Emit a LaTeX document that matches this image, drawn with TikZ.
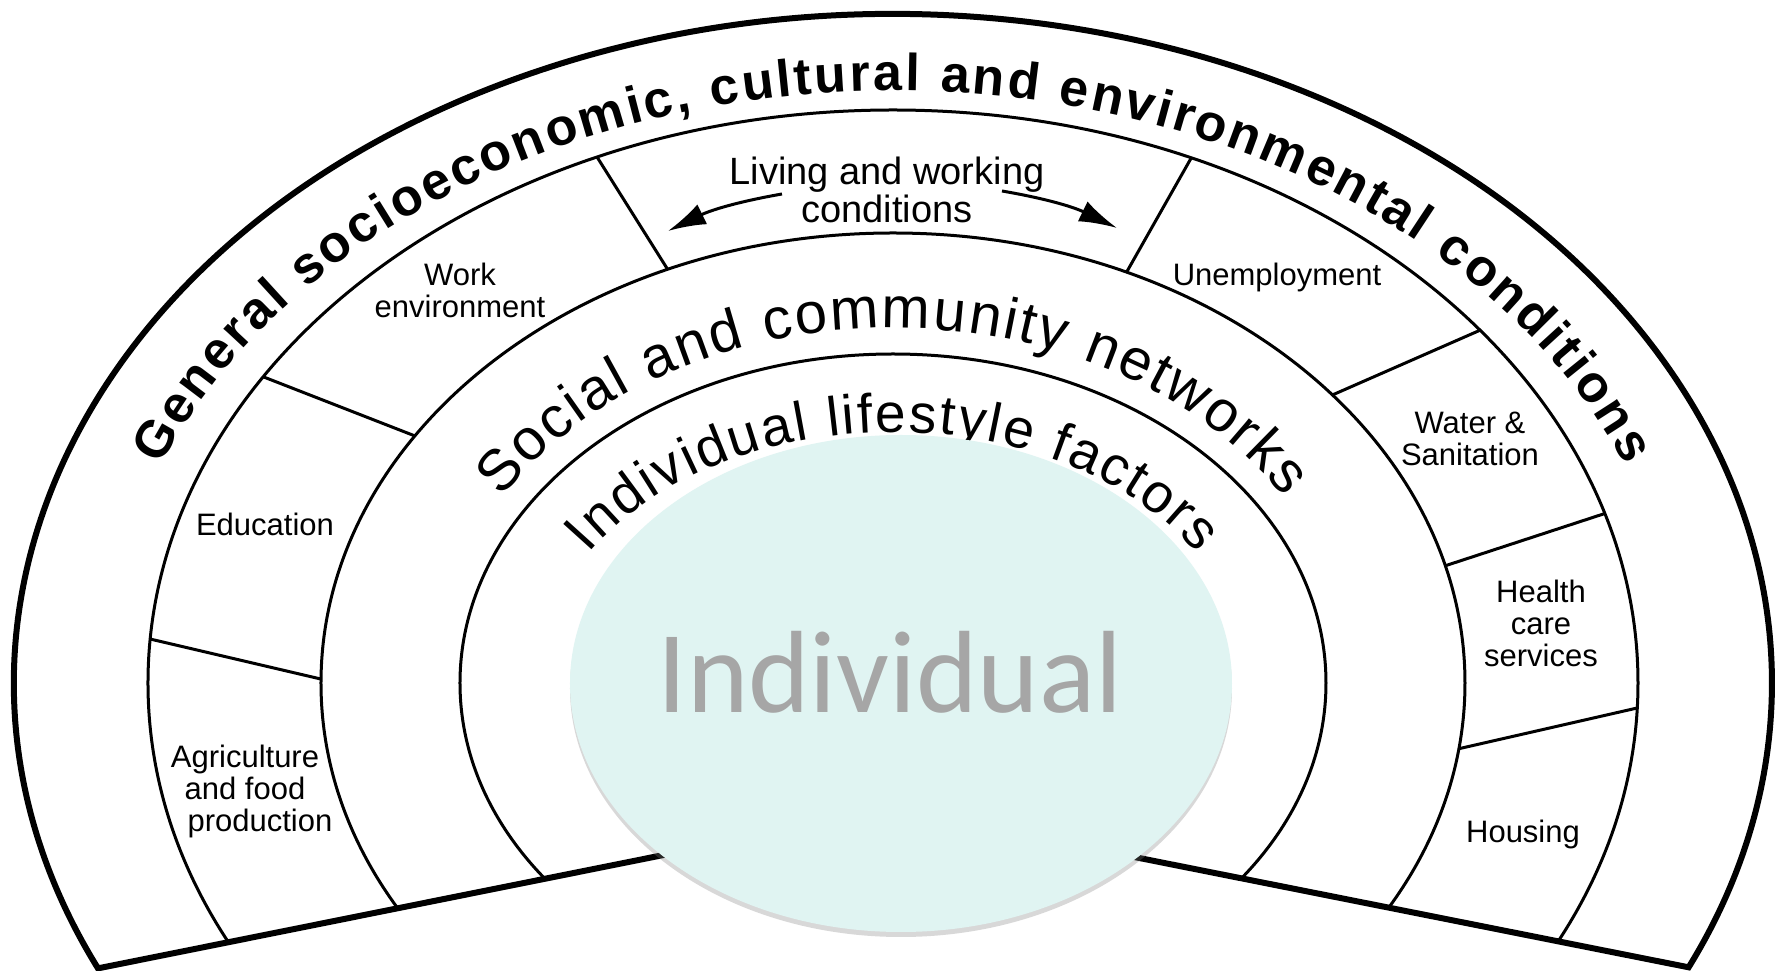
\documentclass[tikz,border=0pt]{standalone}
\usepackage{fontspec}
\setmainfont{Liberation Sans}
\newfontfamily\calibfont{Carlito}
\usetikzlibrary{decorations.text,arrows.meta,shadows,shapes.geometric}
\newcommand\bandfont{\fontsize{52}{60}\selectfont\bfseries}
\newcommand\socfont{\fontsize{58}{60}\selectfont}
\newcommand\indfont{\fontsize{55}{60}\selectfont}
\definecolor{corefill}{RGB}{224,244,242}
\definecolor{coretext}{RGB}{166,166,166}
\begin{document}
\begin{tikzpicture}[x=1pt,y=1pt,
  ring/.style={line width=3pt},
  outerline/.style={line width=6pt, line join=miter},
  divider/.style={line width=3pt},
  lbl/.style={font=\fontsize{31}{32}\selectfont, align=center, inner sep=0pt},
  bigarrow/.style={line width=3pt, -{Latex[length=38pt,width=22pt]}},
  core/.style={ellipse, draw=none, fill=corefill, minimum width=662pt, minimum height=497pt, inner sep=0pt,
    drop shadow={shadow xshift=0pt, shadow yshift=-5pt, opacity=0.3}},
]
\useasboundingbox[fill=white] (-893,-288) rectangle (888,683);

% rings (clipped to the fan)
\coordinate (apex) at (0,-126);
\begin{scope}
  \clip (apex) -- (-1000,-326.5) -- (-1000,800) -- (1000,800) -- (1000,-325) -- cycle;
  \draw[ring] (0,0) ellipse [x radius=745, y radius=573];
  \draw[ring] (0,0) ellipse [x radius=572, y radius=450];
  \draw[ring] (0,0) ellipse [x radius=433, y radius=329];
\end{scope}
% outer boundary
\draw[outerline] (205.25:879 and 669) coordinate (cl)
  arc[start angle=205.25, end angle=-25.15, x radius=879, y radius=669] coordinate (cr)
  -- (apex) -- cycle;

% dividers in the living and working band
\draw[divider] (175.6:745 and 573) -- (179.5:572 and 450);
\draw[divider] (147.7:745 and 573) -- (146.7:572 and 450);
\draw[divider] (113.4:745 and 573) -- (113.2:572 and 450);
\draw[divider] (66.4:745 and 573) -- (65.9:572 and 450);
\draw[divider] (38.0:745 and 573) -- (39.8:572 and 450);
\draw[divider] (17.2:745 and 573) -- (15.1:572 and 450);
\draw[divider] (-2.5:745 and 573) -- (-8.4:572 and 450);

% curved band titles
\path[decorate, decoration={text along path, text align={fit to path},
  text={|\bandfont|General socioeconomic, cultural and environmental conditions}}]
  (158.5:787 and 592) arc[start angle=158.5, end angle=21.5, x radius=787, y radius=592];
\path[decorate, decoration={text along path, text align={fit to path},
  text={|\socfont|Social and community networks}}]
  (148.5:459 and 355) arc[start angle=148.5, end angle=31.5, x radius=459, y radius=355];
\path[decorate, decoration={text along path, text align={fit to path},
  text={|\indfont|Individual lifestyle factors}}]
  (149:355 and 251) arc[start angle=149, end angle=31, x radius=355, y radius=251];

% labels
\node[lbl] (work) at (-433,393) {Work\\environment};
\node[lbl, font=\fontsize{38}{37.5}\selectfont] (living) at (-6,493) {Living and working\\conditions};
\node[lbl] (edu) at (-628,159) {Education};
\node[lbl] (agri) at (-648,-108.5) {Agriculture\\and food\\\hspace*{30pt}production};
\node[lbl] (unemp) at (384,406) {Unemployment};
\node[lbl] (water) at (577,244.5) {Water \&\\Sanitation};
\node[lbl] (health) at (648,59.5) {Health\\care\\services};
\node[lbl] (housing) at (630,-151) {Housing};

% arrows
\coordinate (la0) at (-111,489);
\coordinate (la1) at (-225,452);
\coordinate (ra0) at (109,492);
\coordinate (ra1) at (224,455);
\draw[bigarrow] (la0) to[bend right=8] (la1);
\draw[bigarrow] (ra0) to[bend left=8] (ra1);

% core
\node[core] (indiv) at (8,-0.5) {};
\node[anchor=base, font=\calibfont\fontsize{117}{120}\selectfont, text=coretext, inner sep=0pt] (indivtext) at (-3,-30) {Individual};
\end{tikzpicture}
\end{document}
